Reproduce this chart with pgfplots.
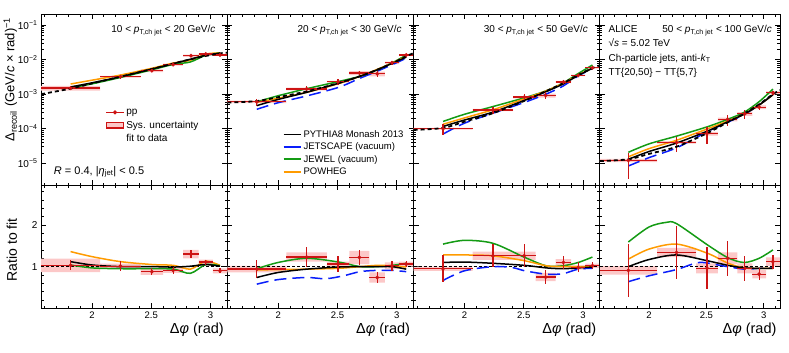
\documentclass[border=0pt]{standalone}
\usepackage{fontspec}
\setmainfont{Liberation Sans}
\usepackage{pgfplots}
\pgfplotsset{compat=1.18}
\usepgfplotslibrary{groupplots}

\definecolor{datared}{RGB}{205,20,20}
\definecolor{syspink}{RGB}{252,200,200}
\definecolor{mblue}{RGB}{10,30,250}
\definecolor{mgreen}{RGB}{20,155,20}
\definecolor{morange}{RGB}{255,155,0}

\newcommand{\ptj}{\textit{p}\textsubscript{T,ch jet}}

\pgfplotsset{
  mfit/.style={black, line width=1.8pt, dash pattern=on 4pt off 3pt, smooth},
  mpy/.style={black, line width=1.5pt, smooth},
  mjs/.style={mblue, line width=1.5pt, dash pattern=on 12pt off 6pt, smooth},
  mjw/.style={mgreen, line width=1.5pt, smooth},
  mpw/.style={morange, line width=1.5pt, smooth},
  sysb/.style={fill=syspink, draw=none, /pgfplots/unbounded coords=jump, /pgfplots/forget plot},
  one/.style={black, line width=0.6pt, dash pattern=on 3pt off 2pt, /pgfplots/forget plot},
  dpts/.style={datared, line width=1.3pt, only marks, mark=o, mark size=1.2pt,
    /pgfplots/error bars/x dir=both, /pgfplots/error bars/x explicit,
    /pgfplots/error bars/y dir=both, /pgfplots/error bars/y explicit,
    /pgfplots/error bars/error mark=none,
    /pgfplots/error bars/error bar style={line width=1.3pt, datared}},
  toprow/.style={/pgfplots/height=171pt, /pgfplots/ymin=2.3e-6, /pgfplots/ymax=0.21,
    /pgfplots/ytick={1e-5,1e-4,1e-3,1e-2,1e-1}},
  botrow/.style={/pgfplots/height=123pt, /pgfplots/ymin=0, /pgfplots/ymax=2.95,
    /pgfplots/ytick={0,1,2,3},
    /pgfplots/minor ytick={0.2,0.4,0.6,0.8,1.2,1.4,1.6,1.8,2.2,2.4,2.6,2.8}},
}

\begin{document}
\begin{tikzpicture}
\begin{groupplot}[
  group style={group size=4 by 2, horizontal sep=0pt, vertical sep=0pt,
    x descriptions at=edge bottom, y descriptions at=edge left},
  scale only axis, width=186pt,
  xmin=1.5708, xmax=3.1416,
  xtick={2,2.5,3},
  minor xtick={1.6,1.7,1.8,1.9,2.1,2.2,2.3,2.4,2.6,2.7,2.8,2.9,3.1},
  xtick pos=both, ytick pos=both, tick align=inside,
  major tick length=5pt, minor tick length=2.5pt,
  every tick/.style={black, line width=0.6pt},
  axis line style={line width=0.8pt},
  /pgf/number format/assume math mode=true,
  tick label style={font=\fontsize{10}{12}\selectfont},
  xticklabel style={font=\fontsize{9.5}{11}\selectfont},
  label style={font=\fontsize{13}{15}\selectfont},
  xlabel={Δ\textit{φ} (rad)},
  xlabel style={at={(axis description cs:1,0)}, anchor=north east, yshift=-11pt,
    font=\fontsize{14.5}{16}\selectfont},
  clip=true,
]
% ---------- 10-20 GeV/c, spectrum
\nextgroupplot[ymode=log, toprow,
  yticklabels={10\textsuperscript{−5},10\textsuperscript{−4},10\textsuperscript{−3},10\textsuperscript{−2},10\textsuperscript{−1}},
  ylabel={Δ\textsubscript{recoil} (GeV/\textit{c} × rad)\textsuperscript{−1}},
  ylabel style={at={(axis description cs:-0.11,1)}, anchor=south east},
  legend style={draw=none, fill=none, font=\fontsize{10}{12}\selectfont,
    at={(0.33,0.47)}, anchor=north west, row sep=1pt},
  legend cell align=left]
\addlegendimage{datared, line width=1.5pt, mark=o, mark size=1.2pt}
\addlegendentry{pp}
\addlegendimage{area legend, fill=syspink, draw=datared, line width=1.2pt}
\addlegendentry{Sys. uncertainty}
\addlegendimage{empty legend}
\addlegendentry{fit to data}
\addplot[sysb] coordinates {
 (1.5708,1.27e-3) (1.5708,1.73e-3) (2.07,1.73e-3) (2.07,1.27e-3) (2.07,nan)
 (2.07,3.01e-3) (2.07,3.39e-3) (2.41,3.39e-3) (2.41,3.01e-3) (2.41,nan)
 (2.41,4.36e-3) (2.41,5.24e-3) (2.60,5.24e-3) (2.60,4.36e-3) (2.60,nan)
 (2.60,6.72e-3) (2.60,7.68e-3) (2.77,7.68e-3) (2.77,6.72e-3) (2.77,nan)
 (2.77,1.2e-2) (2.77,1.4e-2) (2.90,1.4e-2) (2.90,1.2e-2) (2.90,nan)
 (2.90,1.37e-2) (2.90,1.53e-2) (3.02,1.53e-2) (3.02,1.37e-2) (3.02,nan)
 (3.02,1.28e-2) (3.02,1.46e-2) (3.1416,1.46e-2) (3.1416,1.28e-2)
};
\addplot[mpw, forget plot] coordinates {(1.82,1.97e-3) (2.0,2.54e-3) (2.24,3.58e-3) (2.51,5.67e-3) (2.69,8.03e-3) (2.83,9.59e-3) (2.96,1.45e-2) (3.08,1.57e-2)};
\addplot[mjw, forget plot] coordinates {(1.82,1.51e-3) (2.0,1.99e-3) (2.24,3.04e-3) (2.51,5.13e-3) (2.69,7.33e-3) (2.83,8.57e-3) (2.96,1.34e-2) (3.08,1.55e-2)};
\addplot[mpy, forget plot] coordinates {(1.82,1.62e-3) (2.0,2.13e-3) (2.24,3.2e-3) (2.51,5.4e-3) (2.69,7.72e-3) (2.83,1.03e-2) (2.96,1.34e-2) (3.08,1.54e-2)};
\addplot[forget plot, dpts] coordinates {
 (1.82,1.5e-3) +- (0.25,1.75e-4)
 (2.24,3.2e-3) +- (0.17,3.8e-4)
 (2.505,4.8e-3) +- (0.095,4.4e-4)
 (2.685,7.2e-3) +- (0.085,6.3e-4)
 (2.835,1.3e-2) +- (0.065,1.0e-3)
 (2.96,1.45e-2) +- (0.06,7.8e-4)
 (3.08,1.37e-2) +- (0.06,9.2e-4)
};
\addplot[mfit, forget plot] coordinates {(1.5708,1.0e-3) (1.82,1.45e-3) (2.0,2.05e-3) (2.24,3.2e-3) (2.51,5.4e-3) (2.69,7.8e-3) (2.83,1.02e-2) (2.96,1.28e-2) (3.08,1.52e-2) (3.1416,1.6e-2)};
\node[anchor=north east, font=\fontsize{10}{12}\selectfont] at (rel axis cs:0.955,0.955) {10 < \ptj{} < 20 GeV/\textit{c}};
\node[anchor=base west, font=\fontsize{11}{13}\selectfont] at (rel axis cs:0.05,0.065) {\textit{R} = 0.4, |\textit{η}\textsubscript{jet}| < 0.5};

% ---------- 20-30 GeV/c, spectrum
\nextgroupplot[ymode=log, toprow,
  legend style={draw=none, fill=none, font=\fontsize{9.5}{11}\selectfont,
    at={(0.28,0.345)}, anchor=north west, row sep=0pt},
  legend cell align=left]
\addlegendimage{black, line width=1.8pt}
\addlegendentry{PYTHIA8 Monash 2013}
\addlegendimage{mblue, line width=1.8pt}
\addlegendentry{JETSCAPE (vacuum)}
\addlegendimage{mgreen, line width=1.8pt}
\addlegendentry{JEWEL (vacuum)}
\addlegendimage{morange, line width=1.8pt}
\addlegendentry{POWHEG}
\addplot[sysb] coordinates {
 (1.5708,5.49e-4) (1.5708,6.51e-4) (2.07,6.51e-4) (2.07,5.49e-4) (2.07,nan)
 (2.07,1.29e-3) (2.07,1.55e-3) (2.41,1.55e-3) (2.41,1.29e-3) (2.41,nan)
 (2.41,2.17e-3) (2.41,2.43e-3) (2.60,2.43e-3) (2.60,2.17e-3) (2.60,nan)
 (2.60,3.56e-3) (2.60,4.64e-3) (2.77,4.64e-3) (2.77,3.56e-3) (2.77,nan)
 (2.77,3.27e-3) (2.77,4.53e-3) (2.90,4.53e-3) (2.90,3.27e-3) (2.90,nan)
 (2.90,7.47e-3) (2.90,8.73e-3) (3.02,8.73e-3) (3.02,7.47e-3) (3.02,nan)
 (3.02,1.28e-2) (3.02,1.44e-2) (3.1416,1.44e-2) (3.1416,1.28e-2)
};
\addplot[mjs, forget plot] coordinates {(1.82,3.65e-4) (2.0,5.66e-4) (2.24,8.88e-4) (2.51,1.58e-3) (2.69,2.9e-3) (2.83,4.55e-3) (2.96,7.1e-3) (3.08,1.1e-2)};
\addplot[mjw, forget plot] coordinates {(1.82,5.99e-4) (2.0,9.02e-4) (2.24,1.44e-3) (2.51,2.33e-3) (2.69,3.3e-3) (2.83,5.0e-3) (2.96,8.03e-3) (3.08,1.35e-2)};
\addplot[mpw, forget plot] coordinates {(1.82,5.8e-4) (2.0,7.63e-4) (2.24,1.13e-3) (2.51,2.02e-3) (2.69,3.3e-3) (2.83,5.15e-3) (2.96,7.96e-3) (3.08,1.24e-2)};
\addplot[mpy, forget plot] coordinates {(1.82,4.66e-4) (2.0,7.05e-4) (2.24,1.13e-3) (2.51,2.08e-3) (2.69,3.3e-3) (2.83,5.0e-3) (2.96,7.8e-3) (3.08,1.18e-2)};
\addplot[forget plot, dpts] coordinates {
 (1.82,6.0e-4) +- (0.25,1.4e-4)
 (2.24,1.42e-3) +- (0.17,2.8e-4)
 (2.505,2.3e-3) +- (0.095,4.3e-4)
 (2.685,4.1e-3) +- (0.085,6.1e-4)
 (2.835,3.9e-3) +- (0.065,6.9e-4)
 (2.96,8.1e-3) +- (0.06,9.5e-4)
 (3.08,1.36e-2) +- (0.06,1.0e-3)
};
\addplot[mfit, forget plot] coordinates {(1.5708,5.7e-4) (1.82,6.3e-4) (2.0,8.2e-4) (2.24,1.2e-3) (2.51,2.1e-3) (2.69,3.3e-3) (2.83,5.0e-3) (2.96,7.8e-3) (3.08,1.25e-2) (3.1416,1.55e-2)};
\node[anchor=north east, font=\fontsize{10}{12}\selectfont] at (rel axis cs:0.955,0.955) {20 < \ptj{} < 30 GeV/\textit{c}};

% ---------- 30-50 GeV/c, spectrum
\nextgroupplot[ymode=log, toprow]
\addplot[sysb] coordinates {
 (1.5708,9.47e-5) (1.5708,1.053e-4) (2.07,1.053e-4) (2.07,9.47e-5) (2.07,nan)
 (2.07,3.22e-4) (2.07,3.78e-4) (2.41,3.78e-4) (2.41,3.22e-4) (2.41,nan)
 (2.41,7.55e-4) (2.41,8.85e-4) (2.60,8.85e-4) (2.60,7.55e-4) (2.60,nan)
 (2.60,7.98e-4) (2.60,1.04e-3) (2.77,1.04e-3) (2.77,7.98e-4) (2.77,nan)
 (2.77,2.09e-3) (2.77,2.41e-3) (2.90,2.41e-3) (2.90,2.09e-3) (2.90,nan)
 (2.90,3.32e-3) (2.90,3.68e-3) (3.02,3.68e-3) (3.02,3.32e-3) (3.02,nan)
 (3.02,5.52e-3) (3.02,6.08e-3) (3.1416,6.08e-3) (3.1416,5.52e-3)
};
\addplot[mjs, forget plot] coordinates {(1.82,7.0e-5) (2.0,1.44e-4) (2.24,2.8e-4) (2.51,5.85e-4) (2.69,1.01e-3) (2.83,1.7e-3) (2.96,3.38e-3) (3.08,5.47e-3)};
\addplot[mjw, forget plot] coordinates {(1.82,1.62e-4) (2.0,2.61e-4) (2.24,4.37e-4) (2.51,7.93e-4) (2.69,1.25e-3) (2.83,2.09e-3) (2.96,3.96e-3) (3.08,7.01e-3)};
\addplot[mpw, forget plot] coordinates {(1.82,1.34e-4) (2.0,2.05e-4) (2.24,3.53e-4) (2.51,7.41e-4) (2.69,1.25e-3) (2.83,2.05e-3) (2.96,3.6e-3) (3.08,5.7e-3)};
\addplot[mpy, forget plot] coordinates {(1.82,1.16e-4) (2.0,1.78e-4) (2.24,3.02e-4) (2.51,6.7e-4) (2.69,1.19e-3) (2.83,1.95e-3) (2.96,3.49e-3) (3.08,5.64e-3)};
\addplot[forget plot, dpts] coordinates {
 (1.82,1.0e-4) +- (0.25,3.4e-5)
 (2.24,3.5e-4) +- (0.17,7.8e-5)
 (2.505,8.2e-4) +- (0.095,1.8e-4)
 (2.685,9.2e-4) +- (0.085,2.0e-4)
 (2.835,2.25e-3) +- (0.065,3.3e-4)
 (2.96,3.5e-3) +- (0.06,4.3e-4)
 (3.08,5.8e-3) +- (0.06,4.5e-4)
};
\addplot[mfit, forget plot] coordinates {(1.5708,9.2e-5) (1.82,1.05e-4) (2.0,1.6e-4) (2.24,2.8e-4) (2.51,6.5e-4) (2.69,1.23e-3) (2.83,2.05e-3) (2.96,3.6e-3) (3.08,5.7e-3) (3.1416,6.8e-3)};
\node[anchor=north east, font=\fontsize{10}{12}\selectfont] at (rel axis cs:0.955,0.955) {30 < \ptj{} < 50 GeV/\textit{c}};

% ---------- 50-100 GeV/c, spectrum
\nextgroupplot[ymode=log, toprow, width=180pt]
\addplot[sysb] coordinates {
 (1.5708,1.07e-5) (1.5708,1.33e-5) (2.07,1.33e-5) (2.07,1.07e-5) (2.07,nan)
 (2.07,3.67e-5) (2.07,4.33e-5) (2.41,4.33e-5) (2.41,3.67e-5) (2.41,nan)
 (2.41,6.3e-5) (2.41,8.1e-5) (2.60,8.1e-5) (2.60,6.3e-5) (2.60,nan)
 (2.60,1.64e-4) (2.60,2.08e-4) (2.77,2.08e-4) (2.77,1.64e-4) (2.77,nan)
 (2.77,2.36e-4) (2.77,3.04e-4) (2.90,3.04e-4) (2.90,2.36e-4) (2.90,nan)
 (2.90,3.69e-4) (2.90,4.71e-4) (3.02,4.71e-4) (3.02,3.69e-4) (3.02,nan)
 (3.02,1.0e-3) (3.02,1.2e-3) (3.1416,1.2e-3) (3.1416,1.0e-3)
};
\addplot[mjs, forget plot] coordinates {(1.82,8.3e-6) (2.0,1.45e-5) (2.24,2.79e-5) (2.51,8.25e-5) (2.69,1.56e-4) (2.83,2.57e-4) (2.96,4.86e-4) (3.08,9.7e-4)};
\addplot[mjw, forget plot] coordinates {(1.82,2.07e-5) (2.0,3.63e-5) (2.24,6.09e-5) (2.51,1.14e-4) (2.69,1.89e-4) (2.83,3.0e-4) (2.96,6.07e-4) (3.08,1.4e-3)};
\addplot[mpw, forget plot] coordinates {(1.82,1.53e-5) (2.0,2.64e-5) (2.24,4.62e-5) (2.51,9.9e-5) (2.69,1.68e-4) (2.83,2.65e-4) (2.96,4.86e-4) (3.08,9.6e-4)};
\addplot[mpy, forget plot] coordinates {(1.82,1.3e-5) (2.0,2.18e-5) (2.24,3.84e-5) (2.51,8.55e-5) (2.69,1.61e-4) (2.83,2.65e-4) (2.96,4.86e-4) (3.08,9.6e-4)};
\addplot[forget plot, dpts] coordinates {
 (1.82,1.2e-5) +- (0.25,8.4e-6)
 (2.24,4.0e-5) +- (0.17,1.9e-5)
 (2.505,7.2e-5) +- (0.095,3.7e-5)
 (2.685,1.86e-4) +- (0.085,6.5e-5)
 (2.835,2.7e-4) +- (0.065,8.4e-5)
 (2.96,4.2e-4) +- (0.06,7.7e-5)
 (3.08,1.1e-3) +- (0.06,1.7e-4)
};
\addplot[mfit, forget plot] coordinates {(1.5708,1.15e-5) (1.82,1.3e-5) (2.0,1.86e-5) (2.24,3.0e-5) (2.51,7.5e-5) (2.69,1.56e-4) (2.83,2.73e-4) (2.96,5.06e-4) (3.08,1.0e-3) (3.1416,1.3e-3)};
\node[anchor=north east, font=\fontsize{10}{12}\selectfont] at (rel axis cs:0.975,0.955) {50 < \ptj{} < 100 GeV/\textit{c}};
\node[anchor=north west, align=left, font=\fontsize{10}{14.5}\selectfont] at (rel axis cs:0.03,0.955)
  {ALICE\\√\textit{s} = 5.02 TeV\\Ch-particle jets, anti-\textit{k}\textsubscript{T}\\TT\{20,50\} − TT\{5,7\}};

% ---------- 10-20 GeV/c, ratio
\nextgroupplot[botrow, yticklabels={,1,2,},
  ylabel={Ratio to fit},
  ylabel style={at={(axis description cs:-0.11,0.76)}, anchor=south east,
    font=\fontsize{14}{16}\selectfont}]
\addplot[sysb] coordinates {
 (1.5708,0.87) (1.5708,1.19) (2.07,1.19) (2.07,0.87) (2.07,nan)
 (2.07,0.95) (2.07,1.07) (2.41,1.07) (2.41,0.95) (2.41,nan)
 (2.41,0.80) (2.41,0.96) (2.60,0.96) (2.60,0.80) (2.60,nan)
 (2.60,0.85) (2.60,0.97) (2.77,0.97) (2.77,0.85) (2.77,nan)
 (2.77,1.20) (2.77,1.40) (2.90,1.40) (2.90,1.20) (2.90,nan)
 (2.90,1.05) (2.90,1.17) (3.02,1.17) (3.02,1.05) (3.02,nan)
 (3.02,0.84) (3.02,0.96) (3.1416,0.96) (3.1416,0.84)
};
\addplot[one] coordinates {(1.5708,1) (3.1416,1)};
\addplot[mpw, forget plot] coordinates {(1.82,1.36) (2.0,1.24) (2.24,1.12) (2.51,1.05) (2.69,1.03) (2.83,0.94) (2.96,1.13) (3.08,1.03)};
\addplot[mjw, forget plot] coordinates {(1.82,1.04) (2.0,0.97) (2.24,0.95) (2.51,0.95) (2.69,0.94) (2.83,0.84) (2.96,1.05) (3.08,1.02)};
\addplot[mpy, forget plot] coordinates {(1.82,1.12) (2.0,1.04) (2.24,1.0) (2.51,1.0) (2.69,0.99) (2.83,1.01) (2.96,1.05) (3.08,1.01)};
\addplot[forget plot, dpts] coordinates {
 (1.82,1.03) +- (0.25,0.12)
 (2.24,1.01) +- (0.17,0.12)
 (2.505,0.88) +- (0.095,0.08)
 (2.685,0.91) +- (0.085,0.08)
 (2.835,1.30) +- (0.065,0.10)
 (2.96,1.11) +- (0.06,0.06)
 (3.08,0.90) +- (0.06,0.06)
};

% ---------- 20-30 GeV/c, ratio
\nextgroupplot[botrow]
\addplot[sysb] coordinates {
 (1.5708,0.86) (1.5708,1.02) (2.07,1.02) (2.07,0.86) (2.07,nan)
 (2.07,1.12) (2.07,1.34) (2.41,1.34) (2.41,1.12) (2.41,nan)
 (2.41,1.00) (2.41,1.12) (2.60,1.12) (2.60,1.00) (2.60,nan)
 (2.60,1.06) (2.60,1.38) (2.77,1.38) (2.77,1.06) (2.77,nan)
 (2.77,0.62) (2.77,0.86) (2.90,0.86) (2.90,0.62) (2.90,nan)
 (2.90,0.94) (2.90,1.10) (3.02,1.10) (3.02,0.94) (3.02,nan)
 (3.02,1.00) (3.02,1.12) (3.1416,1.12) (3.1416,1.00)
};
\addplot[one] coordinates {(1.5708,1) (3.1416,1)};
\addplot[mjs, forget plot] coordinates {(1.82,0.58) (2.0,0.69) (2.24,0.74) (2.4,0.71) (2.55,0.78) (2.69,0.88) (2.83,0.91) (2.96,0.91) (3.08,0.88)};
\addplot[mjw, forget plot] coordinates {(1.82,0.95) (2.0,1.1) (2.24,1.2) (2.51,1.11) (2.69,1.0) (2.83,1.0) (2.96,1.03) (3.08,1.08)};
\addplot[mpw, forget plot] coordinates {(1.82,0.92) (2.0,0.93) (2.24,0.94) (2.51,0.96) (2.69,1.0) (2.83,1.03) (2.96,1.02) (3.08,0.99)};
\addplot[mpy, forget plot] coordinates {(1.82,0.74) (2.0,0.86) (2.24,0.94) (2.51,0.99) (2.69,1.0) (2.83,1.0) (2.96,1.0) (3.08,0.94)};
\addplot[forget plot, dpts] coordinates {
 (1.82,0.94) +- (0.25,0.22)
 (2.24,1.23) +- (0.17,0.24)
 (2.505,1.06) +- (0.095,0.20)
 (2.685,1.22) +- (0.085,0.18)
 (2.835,0.74) +- (0.065,0.13)
 (2.96,1.02) +- (0.06,0.12)
 (3.08,1.06) +- (0.06,0.08)
};

% ---------- 30-50 GeV/c, ratio
\nextgroupplot[botrow]
\addplot[sysb] coordinates {
 (1.5708,0.90) (1.5708,1.00) (2.07,1.00) (2.07,0.90) (2.07,nan)
 (2.07,1.16) (2.07,1.36) (2.41,1.36) (2.41,1.16) (2.41,nan)
 (2.41,1.16) (2.41,1.36) (2.60,1.36) (2.60,1.16) (2.60,nan)
 (2.60,0.65) (2.60,0.85) (2.77,0.85) (2.77,0.65) (2.77,nan)
 (2.77,1.02) (2.77,1.18) (2.90,1.18) (2.90,1.02) (2.90,nan)
 (2.90,0.93) (2.90,1.03) (3.02,1.03) (3.02,0.93) (3.02,nan)
 (3.02,0.97) (3.02,1.07) (3.1416,1.07) (3.1416,0.97)
};
\addplot[one] coordinates {(1.5708,1) (3.1416,1)};
\addplot[mjs, forget plot] coordinates {(1.82,0.67) (2.0,0.9) (2.24,1.0) (2.4,0.98) (2.51,0.9) (2.69,0.82) (2.83,0.83) (2.96,0.94) (3.08,0.96)};
\addplot[mjw, forget plot] coordinates {(1.82,1.54) (2.0,1.63) (2.24,1.56) (2.51,1.22) (2.69,1.02) (2.83,1.02) (2.96,1.1) (3.08,1.23)};
\addplot[mpw, forget plot] coordinates {(1.82,1.28) (2.0,1.28) (2.24,1.26) (2.51,1.14) (2.69,1.02) (2.83,1.0) (2.96,1.0) (3.08,1.0)};
\addplot[mpy, forget plot] coordinates {(1.82,1.1) (2.0,1.11) (2.24,1.08) (2.51,1.03) (2.69,0.97) (2.83,0.95) (2.96,0.97) (3.08,0.99)};
\addplot[forget plot, dpts] coordinates {
 (1.82,0.95) +- (0.25,0.32)
 (2.24,1.26) +- (0.17,0.28)
 (2.505,1.26) +- (0.095,0.28)
 (2.685,0.75) +- (0.085,0.16)
 (2.835,1.10) +- (0.065,0.16)
 (2.96,0.98) +- (0.06,0.12)
 (3.08,1.02) +- (0.06,0.08)
};

% ---------- 50-100 GeV/c, ratio
\nextgroupplot[botrow, width=180pt]
\addplot[sysb] coordinates {
 (1.5708,0.81) (1.5708,1.01) (2.07,1.01) (2.07,0.81) (2.07,nan)
 (2.07,1.23) (2.07,1.45) (2.41,1.45) (2.41,1.23) (2.41,nan)
 (2.41,0.84) (2.41,1.08) (2.60,1.08) (2.60,0.84) (2.60,nan)
 (2.60,1.06) (2.60,1.34) (2.77,1.34) (2.77,1.06) (2.77,nan)
 (2.77,0.84) (2.77,1.08) (2.90,1.08) (2.90,0.84) (2.90,nan)
 (2.90,0.72) (2.90,0.92) (3.02,0.92) (3.02,0.72) (3.02,nan)
 (3.02,1.02) (3.02,1.22) (3.1416,1.22) (3.1416,1.02)
};
\addplot[one] coordinates {(1.5708,1) (3.1416,1)};
\addplot[mjs, forget plot] coordinates {(1.82,0.64) (2.0,0.78) (2.24,0.93) (2.44,1.1) (2.64,1.02) (2.83,0.94) (2.96,0.96) (3.08,0.97)};
\addplot[mjw, forget plot] coordinates {(1.82,1.59) (2.0,1.95) (2.15,2.06) (2.24,2.03) (2.51,1.52) (2.69,1.21) (2.83,1.1) (2.96,1.2) (3.08,1.4)};
\addplot[mpw, forget plot] coordinates {(1.82,1.18) (2.0,1.42) (2.24,1.54) (2.51,1.32) (2.69,1.08) (2.83,0.97) (2.96,0.96) (3.08,0.96)};
\addplot[mpy, forget plot] coordinates {(1.82,1.0) (2.0,1.17) (2.24,1.28) (2.51,1.14) (2.69,1.03) (2.83,0.97) (2.96,0.96) (3.08,0.96)};
\addplot[forget plot, dpts] coordinates {
 (1.82,0.91) +- (0.25,0.64)
 (2.24,1.34) +- (0.17,0.64)
 (2.505,0.96) +- (0.095,0.50)
 (2.685,1.20) +- (0.085,0.42)
 (2.835,0.96) +- (0.065,0.30)
 (2.96,0.82) +- (0.06,0.15)
 (3.08,1.12) +- (0.06,0.17)
};
\end{groupplot}
\path (group c1r1.north west) ++(-41pt,14pt);
\path (group c4r2.south east) ++(9pt,-44pt);
\end{tikzpicture}
\end{document}
